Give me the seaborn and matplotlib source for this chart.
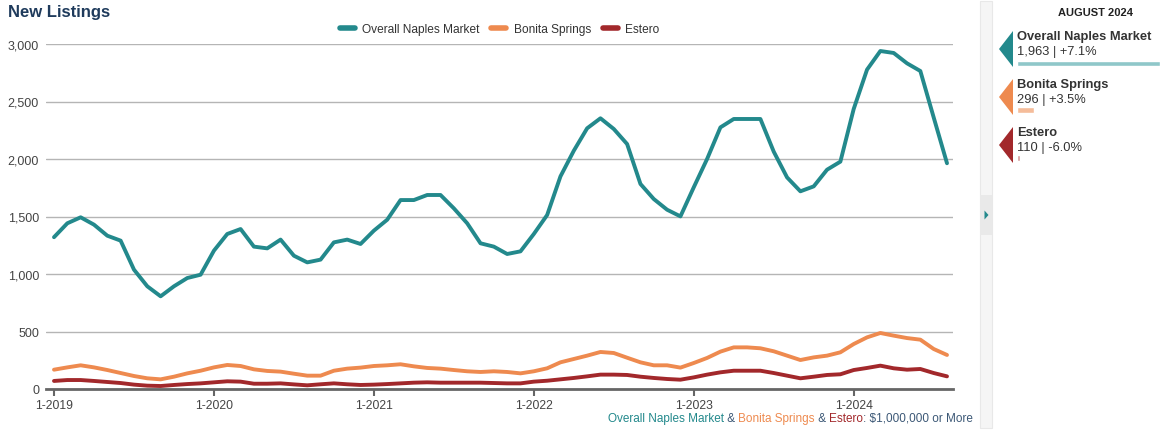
import numpy as np
import pandas as pd
import matplotlib
matplotlib.use("Agg")
import matplotlib.pyplot as plt
from matplotlib.lines import Line2D
from matplotlib.patches import Polygon, Rectangle
import seaborn as sns

# monthly new listings, Jan 2019 - Aug 2024
overall = [1320, 1441, 1493, 1429, 1333, 1290, 1038, 893, 806, 893, 965, 994,
           1203, 1348, 1391, 1238, 1223, 1299, 1159, 1101, 1125, 1275, 1299, 1261,
           1377, 1472, 1643, 1643, 1687, 1687, 1571, 1441, 1267, 1238, 1174, 1197,
           1348, 1513, 1849, 2072, 2267, 2354, 2261, 2130, 1783, 1652, 1559, 1501,
           1754, 2000, 2275, 2348, 2348, 2348, 2064, 1840, 1719, 1762, 1907, 1977,
           2435, 2777, 2939, 2922, 2832, 2765, 2362, 1963]
bonita = [168, 188, 206, 188, 165, 139, 113, 93, 84, 107, 136, 159,
          188, 209, 200, 171, 157, 151, 133, 116, 116, 159, 177, 186,
          200, 206, 215, 197, 183, 177, 165, 154, 148, 154, 148, 136,
          154, 180, 232, 261, 290, 322, 313, 272, 232, 206, 206, 186,
          226, 270, 325, 362, 362, 354, 328, 290, 252, 275, 290, 319,
          391, 449, 487, 464, 443, 429, 348, 296]
estero = [70, 78, 78, 70, 61, 52, 38, 29, 26, 35, 43, 49,
          58, 67, 64, 46, 46, 49, 40, 32, 41, 49, 41, 35,
          38, 43, 49, 55, 58, 55, 55, 55, 55, 52, 49, 49,
          64, 72, 84, 96, 110, 125, 125, 122, 107, 96, 87, 81,
          101, 125, 145, 159, 159, 159, 139, 116, 93, 107, 122, 128,
          165, 183, 203, 180, 168, 174, 139, 110]

areas = ["Overall Naples Market", "Bonita Springs", "Estero"]
colors = ["#23898c", "#ee8a4f", "#a2282b"]
light_colors = ["#8fc7c9", "#f5bc9a", "#d49a9a"]

xtick_pos = [0, 12, 24, 36, 48, 60]
xtick_labels = ["1-2019", "1-2020", "1-2021", "1-2022", "1-2023", "1-2024"]
ytick_vals = [0, 500, 1000, 1500, 2000, 2500, 3000]
ytick_labels = ["0", "500", "1,000", "1,500", "2,000", "2,500", "3,000"]

panel_month = "AUGUST 2024"
panel_values = [1963, 296, 110]
panel_labels = ["1,963 | +7.1%", "296 | +3.5%", "110 | -6.0%"]

df = pd.DataFrame({
    "month": np.tile(np.arange(len(overall)), 3),
    "listings": overall + bonita + estero,
    "area": np.repeat(areas, len(overall)),
})

sns.set_style("white")
plt.rcParams["font.family"] = ["Liberation Sans", "DejaVu Sans"]

W, H = 1160, 431
fig = plt.figure(figsize=(W / 100, H / 100), dpi=100)
ax = fig.add_axes([46 / W, 41 / H, 907 / W, 345 / H])

sns.lineplot(data=df, x="month", y="listings", hue="area", hue_order=areas,
             palette=colors, linewidth=2.8, ax=ax, legend=False)

ax.set_xlim(-0.6, 67.45)
ax.set_ylim(0, 3000)
ax.set_xlabel("")
ax.set_ylabel("")
ax.set_xticks(xtick_pos)
ax.set_xticklabels(xtick_labels)
ax.set_yticks(ytick_vals)
ax.set_yticklabels(ytick_labels)
ax.yaxis.grid(True, color="#b5b5b5", linewidth=1)
ax.set_axisbelow(True)
for s in ["top", "right", "left"]:
    ax.spines[s].set_visible(False)
ax.spines["bottom"].set_color("#666666")
ax.spines["bottom"].set_linewidth(2)
ax.spines["bottom"].set_zorder(5)
ax.tick_params(axis="y", length=0, pad=5, labelsize=9, labelcolor="#444444")
ax.tick_params(axis="x", length=5, width=1.5, color="#666666", direction="out",
               pad=2, labelsize=8.7, labelcolor="#444444", bottom=True)

handles = [Line2D([0], [0], color=c, lw=4) for c in colors]
ax.legend(handles, areas, loc="center", bbox_to_anchor=(0.5, 1 + 15 / 345),
          ncol=3, frameon=False, fontsize=8.6, handlelength=1.25,
          handletextpad=0.6, columnspacing=1.0, labelcolor="#333333")

fig.text(8 / W, 1 - 12 / H, "New Listings", fontsize=12, fontweight="bold",
         color="#1f3b5c", va="center", ha="left")

# caption with colored pieces, right aligned
pieces = [("Overall Naples Market", colors[0]), (" & ", "#3c5876"),
          ("Bonita Springs", colors[1]), (" & ", "#3c5876"),
          ("Estero", colors[2]), (": $1,000,000 or More", "#3c5876")]
renderer = fig.canvas.get_renderer()
texts = []
for txt, col in pieces:
    t = fig.text(0, 1 - 419 / H, txt, color=col, fontsize=8.5, va="center", ha="left")
    texts.append(t)
widths = [t.get_window_extent(renderer).width for t in texts]
x = 973 - sum(widths)
for t, w in zip(texts, widths):
    t.set_x(x / W)
    x += w

# right-hand side panel, drawn in pixel coordinates
side = fig.add_axes([975 / W, 0, (W - 975) / W, 1])
side.set_xlim(975, W)
side.set_ylim(H, 0)
side.axis("off")
side.add_patch(Rectangle((980, 2), 12, 427, facecolor="#f5f5f5", edgecolor="#e8e8e8", lw=0.8))
side.add_patch(Rectangle((980, 196), 12, 40, facecolor="#e9e9e9", edgecolor="none"))
side.add_patch(Polygon([(984.5, 211.5), (988.5, 216), (984.5, 220.5)], closed=True,
                       facecolor=colors[0], edgecolor="none"))
side.text(1096, 13, panel_month, fontsize=8, fontweight="bold", color="#222222",
          ha="center", va="center")

tops = [32, 80, 128]
for i, (name, lab, c) in enumerate(zip(areas, panel_labels, colors)):
    t0 = tops[i]
    side.add_patch(Polygon([(999, t0 + 18), (1013, t0), (1013, t0 + 36)], closed=True,
                           facecolor=c, edgecolor="none"))
    side.text(1017, t0 + 5, name, fontsize=9.3, fontweight="bold", color="#333333",
              ha="left", va="center")
    side.text(1017, t0 + 20.5, lab, fontsize=9.3, color="#333333", ha="left", va="center")

# small bars under each panel entry
bar_base = 75
bars = fig.add_axes([1017 / W, 1 - 166 / H, (W - 1017) / W, 106 / H])
bars.set_ylim(166, 60)
bars.set_xlim(bar_base, max(panel_values))
bars.barh([64.5, 111, 159], [v - bar_base for v in panel_values], left=bar_base,
          height=5.5, color=light_colors)
bars.axis("off")

fig.savefig("out.png", dpi=100)
